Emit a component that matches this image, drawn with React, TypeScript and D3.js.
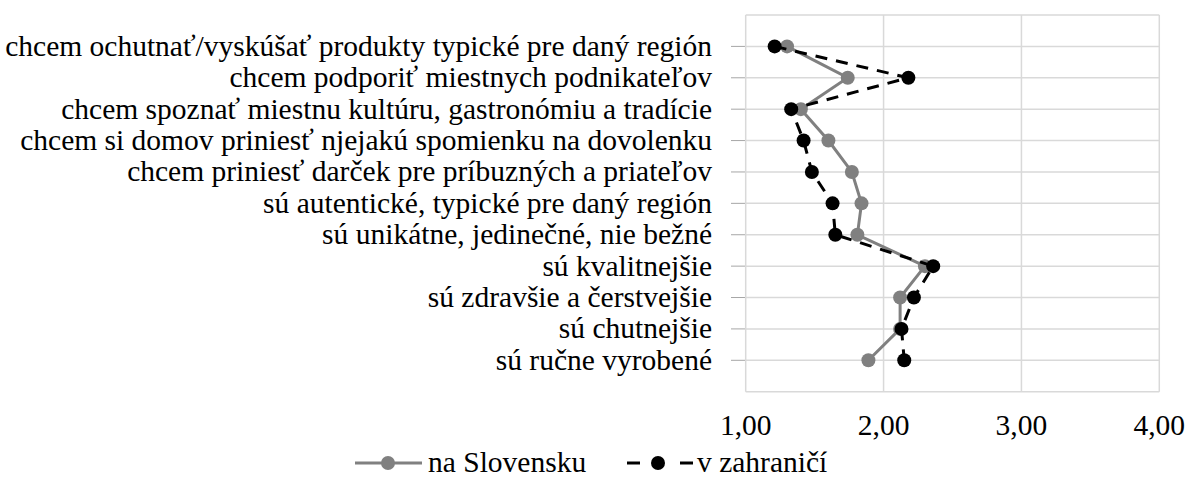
import React from "react";
import * as d3 from "d3";

const categories = [
  "chcem ochutnať/vyskúšať produkty typické pre daný región",
  "chcem podporiť miestnych podnikateľov",
  "chcem spoznať miestnu kultúru, gastronómiu a tradície",
  "chcem si domov priniesť njejakú spomienku na dovolenku",
  "chcem priniesť darček pre príbuzných a priateľov",
  "sú autentické, typické pre daný región",
  "sú unikátne, jedinečné, nie bežné",
  "sú kvalitnejšie",
  "sú zdravšie a čerstvejšie",
  "sú chutnejšie",
  "sú ručne vyrobené",
];

const naSlovensku = [1.3, 1.74, 1.4, 1.6, 1.77, 1.84, 1.81, 2.3, 2.12, 2.12, 1.89];
const vZahranici = [1.21, 2.18, 1.33, 1.42, 1.48, 1.63, 1.65, 2.36, 2.22, 2.13, 2.15];

const xTicks = [1, 2, 3, 4];
const seriesNames = ["na Slovensku", "v zahraničí"];

const W = 1185;
const H = 477;
const FONT = '"Liberation Serif", "Times New Roman", Times, serif';
const FS = 29.5;

export default function App() {
  const x = d3.scaleLinear().domain([1, 4]).range([745.7, 1159.3]);
  const y = d3.scalePoint<string>().domain(categories).range([15, 391.7]).padding(1);
  const top = 15;
  const bottom = 391.7;
  const grid = "#d9d9d9";
  const gray = "#808080";

  const line = d3
    .line<number>()
    .x((d) => x(d))
    .y((_, i) => y(categories[i]) as number);

  const fmt = (v: number) => v.toFixed(2).replace(".", ",");
  const ts = { fontFamily: FONT, fontSize: FS, fill: "#000" } as React.CSSProperties;

  return (
    <svg
      width={W}
      height={H}
      style={{ position: "absolute", left: 0, top: 0, background: "#fff" }}
    >
      {categories.map((c) => (
        <g key={c}>
          <line x1={x(1)} x2={x(4)} y1={y(c)} y2={y(c)} stroke={grid} strokeWidth={1.5} />
          <line x1={731} x2={x(1)} y1={y(c)} y2={y(c)} stroke="#a6a6a6" strokeWidth={1} />
        </g>
      ))}
      <line x1={x(1)} x2={x(4)} y1={top} y2={top} stroke={grid} strokeWidth={1.5} />
      <line x1={x(1)} x2={x(4)} y1={bottom} y2={bottom} stroke={grid} strokeWidth={1.5} />
      {xTicks.map((t) => (
        <line key={t} x1={x(t)} x2={x(t)} y1={top} y2={bottom} stroke={grid} strokeWidth={1.5} />
      ))}

      {categories.map((c) => (
        <text key={c} x={712} y={(y(c) as number) + 9.5} textAnchor="end" style={ts}>
          {c}
        </text>
      ))}

      {xTicks.map((t) => (
        <text key={t} x={x(t)} y={435} textAnchor="middle" style={ts}>
          {fmt(t)}
        </text>
      ))}

      <path d={line(naSlovensku) as string} fill="none" stroke={gray} strokeWidth={3} />
      {naSlovensku.map((v, i) => (
        <circle key={i} cx={x(v)} cy={y(categories[i])} r={7} fill={gray} />
      ))}

      <path
        d={line(vZahranici) as string}
        fill="none"
        stroke="#000"
        strokeWidth={3}
        strokeDasharray="12,9"
      />
      {vZahranici.map((v, i) => (
        <circle key={i} cx={x(v)} cy={y(categories[i])} r={7} fill="#000" />
      ))}

      <g>
        <line x1={355} x2={422} y1={463} y2={463} stroke={gray} strokeWidth={3} />
        <circle cx={388} cy={463} r={7} fill={gray} />
        <text x={428} y={472} style={ts}>
          {seriesNames[0]}
        </text>
        <line x1={627} x2={640} y1={463} y2={463} stroke="#000" strokeWidth={3} />
        <circle cx={658} cy={463} r={7} fill="#000" />
        <line x1={680} x2={693} y1={463} y2={463} stroke="#000" strokeWidth={3} />
        <text x={697} y={472} style={ts}>
          {seriesNames[1]}
        </text>
      </g>
    </svg>
  );
}
